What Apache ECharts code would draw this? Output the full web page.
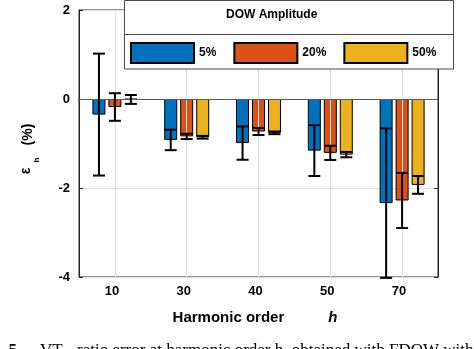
<!DOCTYPE html>
<html><head><meta charset="utf-8">
<script src="https://cdn.jsdelivr.net/npm/echarts@6/dist/echarts.min.js"></script>
<style>html,body{margin:0;padding:0;background:#fff}#c{width:474px;height:349px}</style>
</head><body><div id="c"></div>
<script>
const categories = ['10', '30', '40', '50', '70'];
const seriesNames = ['5%', '20%', '50%'];
const mean5 = [-0.35, -0.92, -0.99, -1.16, -2.34];
const err5 = [1.37, 0.23, 0.375, 0.57, 1.68];
const mean20 = [-0.18, -0.84, -0.73, -1.21, -2.28];
const err20 = [0.31, 0.06, 0.08, 0.16, 0.62];
const mean50 = [-0.01, -0.86, -0.76, -1.25, -1.93];
const err50 = [0.1, 0.03, 0.03, 0.06, 0.2];
const yMin = -4, yMax = 2, yStep = 2;
const legendTitle = 'DOW Amplitude';
const xTitle = 'Harmonic order';
const captionA = 'Fig. 5';
const captionB = 'VT';
const captionC = 'ratio error at harmonic order h, obtained with FDOW with';

const colors = ['#0072BD', '#D95319', '#EDB120'];
const FF = '"Liberation Sans", Arial, Helvetica, sans-serif';
const SERIF = '"Liberation Serif", "Times New Roman", serif';
const means = [mean5, mean20, mean50];
const errs = [err5, err20, err50];

function errRenderer(k) {
  return function (params, api) {
    const i = api.value(0), m = api.value(1), e = api.value(2);
    const band = api.size([1, 0])[0];
    const off = (k - 1) * band * 16 / 72;
    const hw = band * 6 / 72;
    const top = api.coord([i, m + e]);
    const bot = api.coord([i, m - e]);
    const x = top[0] + off;
    const st = { stroke: '#000', lineWidth: 2 };
    return { type: 'group', children: [
      { type: 'line', shape: { x1: x, y1: top[1], x2: x, y2: bot[1] }, style: st },
      { type: 'line', shape: { x1: x - hw, y1: top[1], x2: x + hw, y2: top[1] }, style: st },
      { type: 'line', shape: { x1: x - hw, y1: bot[1], x2: x + hw, y2: bot[1] }, style: st }
    ]};
  };
}

const series = [];
series.push({
  type: 'line', data: [], z: 1, silent: true,
  markLine: {
    silent: true, symbol: 'none', animation: false, label: { show: false },
    data: categories.map(c => ({ xAxis: c, lineStyle: { color: '#dfdfdf', width: 1, type: 'solid' } }))
      .concat([{ yAxis: 0, lineStyle: { color: '#5a5a5a', width: 1, type: 'solid' } }])
  }
});
seriesNames.forEach((n, k) => {
  series.push({
    name: n, type: 'bar', data: means[k], barWidth: 13, barGap: '23%', z: 3,
    itemStyle: { color: colors[k], borderColor: '#000', borderWidth: 1 }
  });
});
seriesNames.forEach((n, k) => {
  series.push({
    type: 'custom', z: 5, silent: true,
    data: means[k].map((m, i) => [i, m, errs[k][i]]),
    renderItem: errRenderer(k)
  });
});

const chart = echarts.init(document.getElementById('c'));
chart.setOption({
  animation: false,
  backgroundColor: '#fff',
  color: colors,
  grid: { left: 79, right: 36, top: 10, bottom: 72, show: true, borderColor: '#262626', borderWidth: 1 },
  legend: {
    data: seriesNames, left: 130, top: 42, z: 20, selectedMode: false, padding: 0,
    itemWidth: 63, itemHeight: 20, itemGap: 17, icon: 'rect',
    textStyle: { fontFamily: FF, fontSize: 12, fontWeight: 'bold', color: '#000' }
  },
  xAxis: [{
    type: 'category', data: categories, position: 'bottom',
    axisLine: { lineStyle: { color: '#262626' } },
    axisTick: { inside: true, alignWithLabel: true, length: 4, lineStyle: { color: '#262626' } },
    axisLabel: { fontFamily: FF, fontSize: 13, fontWeight: 'bold', color: '#000', margin: 8, padding: [0, 6, 0, 0] },
    splitLine: { show: false },
    name: '{a|' + xTitle + '}{b|h}', nameLocation: 'middle', nameGap: 33,
    nameTextStyle: { rich: {
      a: { fontFamily: FF, fontSize: 15, fontWeight: 'bold', color: '#000' },
      b: { fontFamily: FF, fontSize: 15, fontWeight: 'bold', fontStyle: 'italic', color: '#000', padding: [0, 7, 0, 44] }
    } }
  }, {
    type: 'category', data: categories, position: 'top',
    axisLine: { lineStyle: { color: '#262626' } },
    axisTick: { inside: true, alignWithLabel: true, length: 4, lineStyle: { color: '#262626' } },
    axisLabel: { show: false }, splitLine: { show: false }
  }],
  yAxis: [{
    type: 'value', min: yMin, max: yMax, interval: yStep, position: 'left',
    axisLine: { show: true, lineStyle: { color: '#262626' } },
    axisTick: { show: true, inside: true, length: 4, lineStyle: { color: '#262626' } },
    axisLabel: { fontFamily: FF, fontSize: 13, fontWeight: 'bold', color: '#000', margin: 9, padding: [0, 0, 9, 0] },
    splitLine: { show: true, lineStyle: { color: '#dfdfdf', width: 1 } }
  }, {
    type: 'value', min: yMin, max: yMax, interval: yStep, position: 'right',
    axisLine: { show: true, lineStyle: { color: '#262626' } },
    axisTick: { show: true, inside: true, length: 4, lineStyle: { color: '#262626' } },
    axisLabel: { show: false }, splitLine: { show: false }
  }],
  graphic: [
    { type: 'rect', z: 10, shape: { x: 124.5, y: 0.5, width: 329, height: 68.5 },
      style: { fill: '#fff', stroke: '#4a4a4a', lineWidth: 1 } },
    { type: 'line', z: 11, shape: { x1: 124.5, y1: 34.5, x2: 453.5, y2: 34.5 },
      style: { stroke: '#4a4a4a', lineWidth: 1 } },
    { type: 'text', z: 11, x: 226, y: 15,
      style: { text: legendTitle, fill: '#000', font: 'bold 12px ' + FF, verticalAlign: 'middle', align: 'left' } },
    { type: 'text', z: 11, x: 26, y: 171, rotation: Math.PI / 2,
      style: { text: 'ε', fill: '#000', font: 'bold 14px ' + FF, verticalAlign: 'middle', align: 'center' } },
    { type: 'text', z: 11, x: 37, y: 160, rotation: Math.PI / 2,
      style: { text: 'h', fill: '#000', font: 'bold 8px ' + FF, verticalAlign: 'middle', align: 'center' } },
    { type: 'text', z: 11, x: 28, y: 134.5, rotation: Math.PI / 2,
      style: { text: '(%)', fill: '#000', font: 'bold 14px ' + FF, verticalAlign: 'middle', align: 'center' } },
    { type: 'text', z: 11, x: 17, y: 342,
      style: { text: captionA, fill: '#000', font: 'bold 17px ' + SERIF, verticalAlign: 'top', align: 'right' } },
    { type: 'text', z: 11, x: 40, y: 342,
      style: { text: captionB, fill: '#000', font: '17px ' + SERIF, verticalAlign: 'top', align: 'left' } },
    { type: 'text', z: 11, x: 77, y: 342,
      style: { text: captionC, fill: '#000', font: '17px ' + SERIF, verticalAlign: 'top', align: 'left' } }
  ],
  series: series
});
</script>
</body></html>
